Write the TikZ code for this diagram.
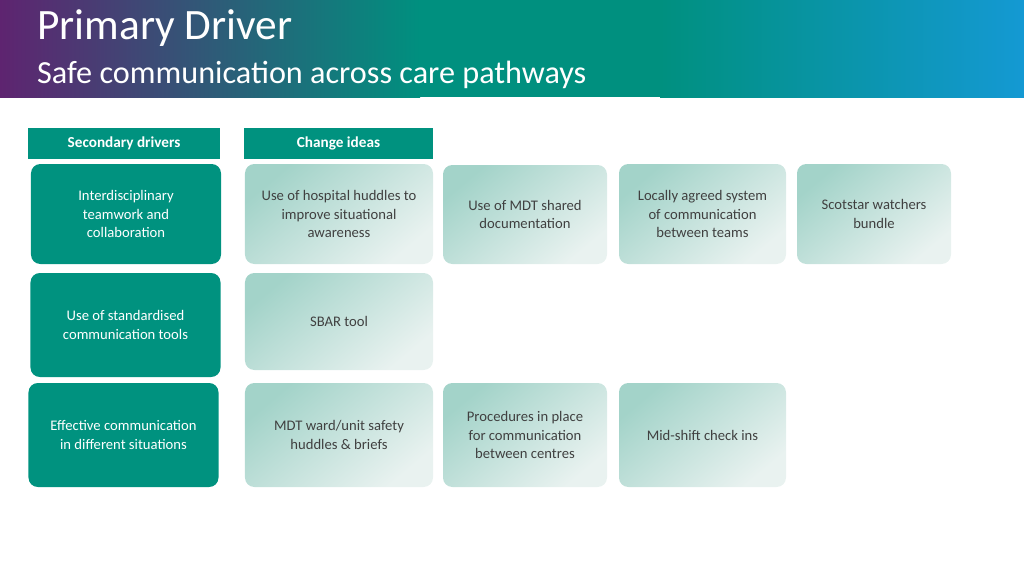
\documentclass[tikz,border=0pt]{standalone}
\usepackage{fontspec}
\setmainfont{Carlito}
\usetikzlibrary{positioning}
\definecolor{drvteal}{HTML}{00927F}
\definecolor{ideatop}{HTML}{A3D3C9}
\definecolor{ideabot}{HTML}{E9F2F0}
\definecolor{bandpurple}{HTML}{5E2470}
\definecolor{bandteal}{HTML}{00907F}
\definecolor{bandblue}{HTML}{1499D3}
\definecolor{ideatext}{HTML}{404040}

\begin{document}
\begin{tikzpicture}[
    x=0.03cm, y=-0.03cm,
    headbox/.style={
        rectangle,
        fill=drvteal,
        text=white,
        font=\fontsize{13}{15}\selectfont\bfseries,
        minimum height=0.93cm,
        inner sep=0pt
    },
    driverbox/.style={
        rectangle,
        rounded corners=8pt,
        fill=drvteal,
        text=white,
        align=center,
        font=\fontsize{12.5}{15.5}\selectfont,
        minimum width=5.7cm,
        inner sep=0pt
    },
    ideabox/.style={
        rectangle,
        rounded corners=8pt,
        top color=ideatop,
        bottom color=ideabot,
        shading angle=40,
        text=ideatext,
        align=center,
        font=\fontsize{12.5}{15.5}\selectfont,
        inner sep=0pt
    }
]
\useasboundingbox (0,0) rectangle (1024,576);
% title band
\shade[left color=bandpurple, right color=bandteal] (0,0) rectangle (420,97);
\fill[bandteal] (419,0) rectangle (661,97);
\shade[left color=bandteal, right color=bandblue] (660,0) rectangle (1024,97);
\node[anchor=west, text=white, font=\fontsize{37}{42}\selectfont] (title) at (33,28) {Primary Driver};
\node[anchor=west, text=white, font=\fontsize{27.5}{32}\selectfont] (subtitle) at (33,75) {Safe communication across care pathways};

% column heads
\node[headbox, minimum width=5.76cm] (hsd) at (124,143.5) {Secondary drivers};
\node[headbox, minimum width=5.67cm] (hci) at (338.5,143.5) {Change ideas};

% secondary drivers
\node[driverbox, minimum height=3.0cm] (sd1) at (126,214) {Interdisciplinary\\teamwork and\\collaboration};
\node[driverbox, minimum height=3.12cm] (sd2) at (125.5,325) {Use of standardised\\communication tools};
\node[driverbox, minimum height=3.12cm] (sd3) at (123.5,435) {Effective communication\\in different situations};

% change ideas
\node[ideabox, minimum width=5.64cm, minimum height=3.0cm] (ci1) at (339,214) {Use of hospital huddles to\\improve situational\\awareness};
\node[ideabox, minimum width=4.92cm, minimum height=2.97cm] (ci2) at (525,214.5) {Use of MDT shared\\documentation};
\node[ideabox, minimum width=5.01cm, minimum height=3.0cm] (ci3) at (702.5,214) {Locally agreed system\\of communication\\between teams};
\node[ideabox, minimum width=4.62cm, minimum height=3.0cm] (ci4) at (874,214) {Scotstar watchers\\bundle};
\node[ideabox, minimum width=5.64cm, minimum height=2.91cm] (ci5) at (339,321.5) {SBAR tool};
\node[ideabox, minimum width=5.64cm, minimum height=3.12cm] (ci6) at (339,435) {MDT ward/unit safety\\huddles \& briefs};
\node[ideabox, minimum width=4.92cm, minimum height=3.12cm] (ci7) at (525,435) {Procedures in place\\for communication\\between centres};
\node[ideabox, minimum width=5.01cm, minimum height=3.12cm] (ci8) at (702.5,435) {Mid-shift check ins};
\end{tikzpicture}
\end{document}
